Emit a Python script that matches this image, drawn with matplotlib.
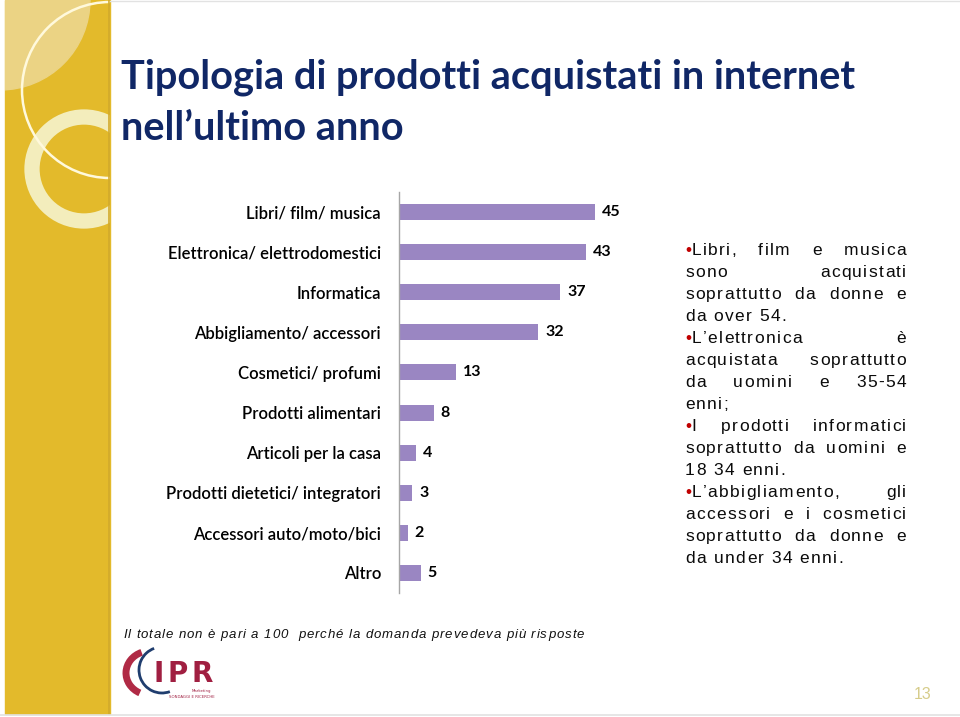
import numpy as np
import matplotlib.pyplot as plt
from matplotlib.patches import Rectangle, Circle, Arc
from matplotlib.font_manager import FontProperties

# Data
categories = ["Libri/ film/ musica", "Elettronica/ elettrodomestici", "Informatica",
              "Abbigliamento/ accessori", "Cosmetici/ profumi", "Prodotti alimentari",
              "Articoli per la casa", "Prodotti dietetici/ integratori",
              "Accessori auto/moto/bici", "Altro"]
values = [45, 43, 37, 32, 13, 8, 4, 3, 2, 5]

title_lines = ["Tipologia di prodotti acquistati in internet", "nell\u2019ultimo anno"]
footnote = "Il totale non \u00e8 pari a 100  perch\u00e9 la domanda prevedeva pi\u00f9 risposte"
paragraphs = [
    ["Libri, film e musica", "sono acquistati", "soprattutto da donne e", "da over 54."],
    ["L\u2019elettronica \u00e8", "acquistata soprattutto", "da uomini e 35-54", "enni;"],
    ["I prodotti informatici", "soprattutto da uomini e", "18 34 enni."],
    ["L\u2019abbigliamento, gli", "accessori e i cosmetici", "soprattutto da donne e",
     "da under 34 enni."],
]
page_number = "13"

bar_color = "#9A86C2"
navy = "#102766"
gold = "#E3BA2B"
logo_red = "#A01F41"

fig = plt.figure(figsize=(9.6, 7.17), dpi=100)
fig.patch.set_facecolor("white")

# background layer in pixel coordinates
bg = fig.add_axes([0, 0, 1, 1], zorder=0)
bg.set_xlim(0, 960)
bg.set_ylim(717, 0)
bg.axis("off")

stripe = Rectangle((5, 0), 105, 714, color=gold, zorder=1)
bg.add_patch(stripe)
pale = Circle((0, 0), 90, color="#EBD384", zorder=2)
bg.add_patch(pale)
pale.set_clip_path(stripe)
ring = Circle((84, 169), 52, fill=False, ec="#F3EDBC", lw=11, zorder=3)
bg.add_patch(ring)
ring.set_clip_path(stripe)
thin = Circle((110, 90), 88, fill=False, ec="#FFF9DC", lw=1.8, zorder=4)
bg.add_patch(thin)
thin.set_clip_path(stripe)
bg.plot([108.5, 108.5], [0, 714], color="#D2AA2C", lw=1.2, zorder=5)
bg.plot([110, 960], [1, 1], color="#E2E2E2", lw=1, zorder=5)
bg.plot([0, 960], [715, 715], color="#E2E2E2", lw=1.2, zorder=5)

# title
for i, line in enumerate(title_lines):
    bg.text(121, 89 + 51 * i, line, fontsize=28.6, fontweight="bold", family="Lato",
            color=navy, va="baseline", ha="left")

renderer = fig.canvas.get_renderer()
_cache = {}


def adv(c, prop):
    key = (c, prop.get_size_in_points(), prop.get_style(), prop.get_weight())
    if key not in _cache:
        w2 = renderer.get_text_width_height_descent("xx", prop, ismath=False)[0]
        w3 = renderer.get_text_width_height_descent("x" + c + "x", prop, ismath=False)[0]
        _cache[key] = w3 - w2
    return _cache[key]


def draw_line(x0, x1, y, text, prop, track, mode, color="black"):
    ws = [adv(c, prop) for c in text]
    natural = sum(ws) + track * (len(text) - 1)
    spaces = text.count(" ")
    extra_space = 0
    if mode == "justify" and spaces:
        extra_space = (x1 - x0 - natural) / spaces
    elif mode == "fit":
        track = (x1 - x0 - sum(ws)) / (len(text) - 1)
    x = x0
    for c, w in zip(text, ws):
        if c != " ":
            bg.text(x, y, c, fontproperties=prop, color=color, ha="left", va="baseline",
                    zorder=6)
        x += w + track
        if c == " ":
            x += extra_space


# right side notes
note_prop = FontProperties(family="Liberation Sans", size=12.5)
x0, x1 = 685, 906
y = 255
for para in paragraphs:
    for j, line in enumerate(para):
        last = j == len(para) - 1
        if j == 0:
            bg.text(x0, y, "\u2022", fontproperties=note_prop, color="#C00000",
                    ha="left", va="baseline")
            start = x0 + adv("\u2022", note_prop) + 0.5
        else:
            start = x0
        draw_line(start, x1, y, line, note_prop, 1.4, "left" if last else "justify",
                  color="#0A0A0A")
        y += 22

# footnote
foot_prop = FontProperties(family="Liberation Sans", size=9.5, style="italic")
draw_line(123, 584, 638, footnote, foot_prop, 0, "fit", color="#111111")

# logo
bg.add_patch(Arc((150, 673), 48, 44, theta1=117, theta2=248, color="#B02A45", lw=5, zorder=6))
bg.add_patch(Arc((162, 670), 46, 46, theta1=70, theta2=250, color="#1F3D6E", lw=2, zorder=6))
logo_prop = FontProperties(family="DejaVu Sans", size=20, weight="bold")
draw_line(153, 213, 682, "IPR", logo_prop, 0, "fit", color=logo_red)
bg.text(211, 692, "Marketing", fontsize=2.8, color=logo_red, ha="right", va="baseline")
bg.text(215, 698, "SONDAGGI E RICERCHE", fontsize=2.8, color=logo_red, ha="right",
        va="baseline")

# page number
bg.text(914, 699, page_number, fontsize=11.5, family="Liberation Sans", color="#D6CC8A",
        ha="left", va="baseline")

# bar chart
ax = fig.add_axes([399 / 960, (717 - 593) / 717, 217.8 / 960, 401 / 717], zorder=2)
ax.patch.set_alpha(0)
pos = np.arange(len(categories))
ax.barh(pos, values, height=0.4, color=bar_color)
ax.set_xlim(0, 50)
ax.set_ylim(len(categories) - 0.5, -0.5)
ax.set_yticks(pos)
ax.set_yticklabels(categories, fontsize=12, family="Lato", fontweight="semibold",
                   color="black")
ax.tick_params(axis="y", length=0, pad=13)
ax.set_xticks([])
for s in ["top", "right", "bottom"]:
    ax.spines[s].set_visible(False)
ax.spines["left"].set_color("#A6A6A6")
ax.spines["left"].set_linewidth(1)
for p, v in zip(pos, values):
    ax.annotate(str(v), (v, p), xytext=(5, 0), textcoords="offset points",
                va="center", ha="left", fontsize=11.5, fontweight="bold", family="Lato")

fig.savefig("out.png", dpi=100)
